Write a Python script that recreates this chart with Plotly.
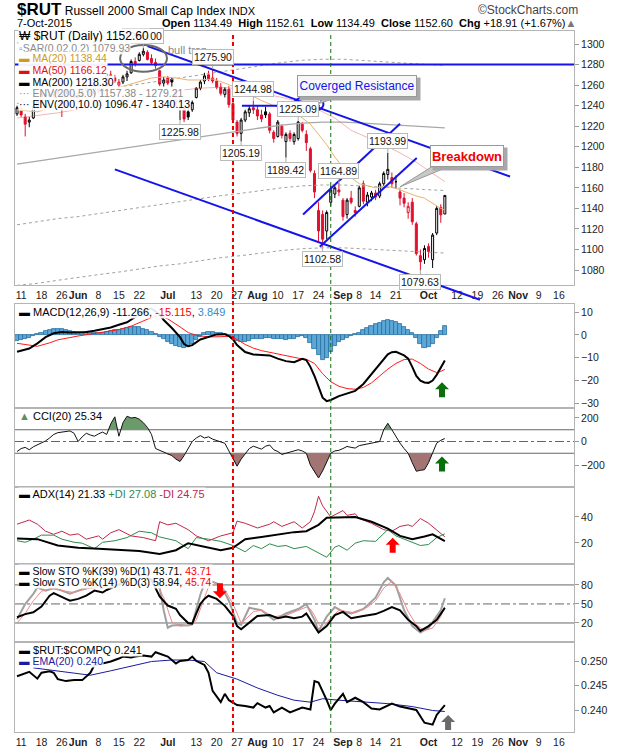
import plotly.graph_objects as go

# ---------------------------------------------------------------- data
dates = [
    "2015-05-08", "2015-05-11", "2015-05-12", "2015-05-13", "2015-05-14", "2015-05-15",
    "2015-05-18", "2015-05-19", "2015-05-20", "2015-05-21", "2015-05-22",
    "2015-05-26", "2015-05-27", "2015-05-28", "2015-05-29",
    "2015-06-01", "2015-06-02", "2015-06-03", "2015-06-04", "2015-06-05",
    "2015-06-08", "2015-06-09", "2015-06-10", "2015-06-11", "2015-06-12",
    "2015-06-15", "2015-06-16", "2015-06-17", "2015-06-18", "2015-06-19",
    "2015-06-22", "2015-06-23", "2015-06-24", "2015-06-25", "2015-06-26",
    "2015-06-29", "2015-06-30", "2015-07-01", "2015-07-02",
    "2015-07-06", "2015-07-07", "2015-07-08", "2015-07-09", "2015-07-10",
    "2015-07-13", "2015-07-14", "2015-07-15", "2015-07-16", "2015-07-17",
    "2015-07-20", "2015-07-21", "2015-07-22", "2015-07-23", "2015-07-24",
    "2015-07-27", "2015-07-28", "2015-07-29", "2015-07-30", "2015-07-31",
    "2015-08-03", "2015-08-04", "2015-08-05", "2015-08-06", "2015-08-07",
    "2015-08-10", "2015-08-11", "2015-08-12", "2015-08-13", "2015-08-14",
    "2015-08-17", "2015-08-18", "2015-08-19", "2015-08-20", "2015-08-21",
    "2015-08-24", "2015-08-25", "2015-08-26", "2015-08-27", "2015-08-28",
    "2015-08-31", "2015-09-01", "2015-09-02", "2015-09-03", "2015-09-04",
    "2015-09-08", "2015-09-09", "2015-09-10", "2015-09-11",
    "2015-09-14", "2015-09-15", "2015-09-16", "2015-09-17", "2015-09-18",
    "2015-09-21", "2015-09-22", "2015-09-23", "2015-09-24", "2015-09-25",
    "2015-09-28", "2015-09-29", "2015-09-30", "2015-10-01", "2015-10-02",
    "2015-10-05", "2015-10-06", "2015-10-07",
]
opens = [1232, 1237, 1229, 1224, 1228, 1239, 1244, 1252, 1249, 1251, 1254, 1251, 1239, 1253, 1252,
         1248, 1249, 1255, 1256, 1251, 1259, 1254, 1259, 1270, 1267, 1260, 1263, 1268, 1272, 1283,
         1284, 1290, 1292, 1286, 1282, 1274, 1262, 1267, 1266, 1254, 1243, 1238, 1234, 1236,
         1248, 1257, 1264, 1270, 1267, 1264, 1258, 1251, 1256, 1242, 1224, 1213, 1226, 1233, 1238,
         1236, 1231, 1234, 1232, 1214, 1210, 1220, 1205, 1213, 1205, 1208, 1222, 1212, 1198, 1174,
         1138, 1134, 1118, 1146, 1154, 1158, 1148, 1134, 1150, 1138, 1142, 1164, 1146, 1151,
         1155, 1152, 1164, 1173, 1170, 1166, 1156, 1150, 1136, 1146, 1125, 1094, 1090, 1103, 1090,
         1116, 1141, 1134.49]
highs = [1240, 1239, 1232, 1229, 1240, 1246, 1254, 1256, 1254, 1256, 1256, 1252, 1256, 1256, 1254,
         1252, 1256, 1262, 1260, 1262, 1262, 1260, 1272, 1274, 1270, 1266, 1270, 1274, 1285, 1287,
         1292, 1296.00, 1294, 1290, 1286, 1275, 1268, 1269, 1267, 1256, 1248, 1240, 1238, 1245,
         1258, 1265, 1272, 1274, 1275.90, 1267, 1262, 1258, 1259, 1244, 1226, 1228, 1236, 1240, 1244.98,
         1240, 1236, 1239, 1234, 1216, 1226, 1222, 1214, 1216, 1214, 1225.09, 1224, 1216, 1200, 1177,
         1146, 1138, 1138, 1162, 1162, 1164.89, 1150, 1150, 1157, 1142, 1162, 1167, 1156, 1157,
         1158, 1166, 1176, 1193.99, 1175, 1172, 1158, 1155, 1146, 1150, 1127, 1100, 1104, 1106, 1116,
         1142, 1144, 1152.61]
lows = [1230, 1229, 1210, 1219, 1227, 1237, 1242, 1246, 1244, 1247, 1249, 1229, 1238, 1248, 1244,
        1242, 1245, 1253, 1248, 1250, 1252, 1250, 1258, 1266, 1262, 1256, 1261, 1264, 1271, 1278,
        1283, 1288, 1284, 1280, 1276, 1259, 1258, 1260, 1258, 1238, 1225.98, 1224, 1226, 1234,
        1247, 1255, 1261, 1264, 1262, 1256, 1250, 1248, 1238, 1224, 1210, 1205.19, 1224, 1229, 1232,
        1226, 1224, 1228, 1213, 1204, 1209, 1208, 1189.42, 1205, 1202, 1206, 1214, 1196, 1175, 1150,
        1108, 1102.58, 1110, 1142, 1150, 1152, 1128, 1130, 1144, 1132, 1141, 1144, 1142, 1147,
        1148, 1150, 1162, 1168, 1160, 1159, 1143, 1141, 1130, 1124, 1094, 1079.63, 1086, 1092, 1082,
        1114, 1126, 1134.49]
closes = [1238, 1231, 1222, 1226, 1239, 1244, 1252, 1249, 1251, 1254, 1252, 1238, 1254, 1252, 1247,
          1250, 1254, 1258, 1251, 1260, 1254, 1258, 1270, 1269, 1264, 1263, 1268, 1271, 1283, 1281,
          1290, 1293, 1285, 1282, 1279, 1261, 1265, 1262, 1263, 1242, 1246, 1227, 1229, 1243,
          1257, 1263, 1269, 1266, 1264, 1258, 1252, 1256, 1241, 1226, 1213, 1226, 1234, 1237, 1236,
          1230, 1227, 1231, 1216, 1208, 1224, 1211, 1212, 1208, 1212, 1224, 1216, 1204, 1177, 1156,
          1118, 1110, 1136, 1158, 1160, 1156, 1132, 1148, 1146, 1136, 1160, 1147, 1153, 1155,
          1151, 1164, 1174, 1178, 1164, 1166, 1150, 1145, 1142, 1127, 1096, 1088, 1101, 1098, 1114,
          1140, 1133.69, 1152.60]

# moving averages / envelopes (read every 5 sessions)
env_idx = [0, 5, 10, 15, 20, 25, 30, 35, 40, 45, 50, 55, 60, 65, 70, 75, 80, 85, 90, 95, 100, 105]
ma200 = [1183, 1186, 1189, 1192, 1195, 1198, 1201, 1204, 1207, 1210, 1213, 1215.5, 1218.5, 1221,
         1223, 1224, 1224, 1223, 1222, 1220.5, 1219.3, 1218.3]
env5_upper = [1242, 1245, 1248, 1252, 1255, 1258, 1261, 1264, 1267, 1270.5, 1273.5, 1276.3, 1279.4,
              1282, 1284.2, 1285.2, 1285.2, 1284.2, 1283.1, 1281.5, 1280.3, 1279.2]
env5_lower = [1124, 1127, 1130, 1132, 1135, 1138, 1141, 1144, 1147, 1149.5, 1152.4, 1154.7, 1157.6,
              1160, 1161.9, 1162.8, 1162.8, 1161.9, 1160.9, 1159.5, 1158.3, 1157.4]
env10_upper = [1301, 1305, 1308, 1311, 1314.5, 1318, 1321, 1324, 1328, 1331, 1334, 1337, 1340, 1343,
               1345, 1346, 1346, 1345, 1344, 1342.5, 1341, 1340.1]
env10_lower = [1065, 1067, 1070, 1073, 1075.5, 1078, 1081, 1084, 1086, 1089, 1092, 1094, 1096.6, 1099,
               1100.7, 1101.6, 1101.6, 1100.7, 1099.8, 1098.5, 1097.4, 1096.5]
ma20_idx = [0, 5, 10, 15, 20, 25, 30, 33, 36, 39, 42, 45, 48, 51, 54, 57, 60, 63, 66, 69, 72, 74, 76,
            78, 80, 82, 84, 86, 88, 90, 92, 94, 96, 98, 100, 102, 104, 105]
ma20 = [1236, 1234, 1240, 1246, 1252, 1258, 1264, 1267, 1268, 1267, 1265, 1265, 1266, 1262, 1257,
        1251, 1245, 1240, 1236, 1231, 1222, 1212, 1202, 1190, 1180, 1170, 1164, 1162, 1160, 1161,
        1161, 1158, 1155, 1152, 1150, 1145, 1140, 1138.44]
ma50_idx = [0, 10, 20, 30, 35, 40, 45, 50, 55, 60, 65, 70, 74, 78, 82, 86, 90, 94, 98, 102, 105]
ma50 = [1228, 1233, 1240, 1248, 1252, 1255, 1257, 1258, 1256, 1252, 1248, 1243, 1236, 1228, 1216,
        1209, 1202, 1194, 1185, 1174, 1166.12]

# MACD(12,26,9)
macd_idx = [0, 3, 5, 7, 9, 11, 13, 15, 17, 19, 21, 23, 25, 27, 29, 31, 33, 35, 36, 38, 40, 41, 42, 43,
            45, 47, 49, 51, 52, 53, 54, 56, 58, 60, 62, 64, 66, 68, 70, 71, 72, 73, 74, 75, 76, 77,
            79, 81, 83, 85, 87, 89, 91, 92, 93, 95, 96, 97, 98, 99, 100, 101, 102, 103, 104, 105]
macd_vals = [-7.4, -6.0, -3.7, -1.0, 0.7, 1.2, 1.0, 1.0, 1.2, 1.8, 2.5, 3.2, 4.4, 5.5, 7.8, 10.5, 11.5,
             9.0, 6.5, 3.0, -1.0, -4.0, -5.0, -4.5, -2.0, -0.8, 0.2, 0.3, -0.5, -2.0, -4.5, -7.5,
             -8.6, -8.8, -9.0, -10.4, -11.5, -12.0, -10.5, -11.0, -14.0, -18.0, -23.0, -27.5, -29.0,
             -28.5, -26.8, -25.5, -24.5, -21.5, -17.0, -12.5, -8.5, -7.6, -7.4, -9.0, -10.4, -14.0,
             -18.0, -20.0, -20.8, -21.0, -20.0, -17.5, -14.5, -11.266]
signal_idx = [0, 5, 8, 10, 15, 20, 25, 28, 30, 33, 35, 37, 40, 42, 44, 47, 50, 52, 54, 56, 58, 60, 63,
              66, 69, 71, 73, 75, 77, 79, 81, 83, 85, 87, 89, 91, 93, 95, 97, 99, 101, 103, 104, 105]
signal_vals = [-3.7, -5.0, -3.5, -2.2, -0.5, 0.8, 2.3, 3.8, 5.2, 7.6, 8.4, 7.0, 3.5, 1.0, -0.2, -0.9,
               -0.8, -0.6, -2.0, -4.2, -5.8, -6.9, -8.0, -9.2, -10.2, -10.7, -12.5, -17.0, -20.5,
               -22.5, -23.5, -23.8, -23.0, -21.0, -18.0, -15.0, -12.5, -10.8, -10.6, -12.5, -15.0,
               -16.5, -16.0, -15.115]
hist_vals = [-2.5, -2.2, -1.8, -1.2, -0.6, 0.3, 0.9, 1.6, 2.2, 2.6,
             2.7, 2.5, 2.0, 1.6, 1.2, 1.0, 0.8, 1.1, 1.3, 1.0,
             0.6, 0.8, 1.3, 1.7, 2.0, 2.3, 2.6, 3.0, 3.4, 3.6,
             3.3, 2.7, 2.0, 1.2, 0.4, -0.8, -2.0, -3.0, -4.0, -4.8,
             -5.5, -5.9, -5.4, -4.0, -2.4, -0.8, 0.6, 1.3, 1.2, 0.9,
             0.8, 0.5, -0.3, -1.5, -2.6, -3.0, -3.0, -2.5, -2.0, -1.8,
             -1.6, -1.4, -1.5, -1.7, -1.9, -2.0, -2.1, -2.0, -1.6, -1.0,
             -0.6, -1.5, -3.5, -6.0, -9.0, -10.8, -10.0, -7.5, -5.0, -3.2,
             -2.2, -1.5, -0.6, 0.2, 1.0, 2.0, 3.0, 3.8, 4.6, 5.4,
             6.0, 6.4, 6.2, 5.5, 4.6, 3.4, 2.0, 0.6, -1.5, -4.0,
             -5.8, -5.5, -4.2, -1.2, 1.5, 3.849]

# CCI(20)
cci_vals = [-85, -60, -50, -70, -45, -28, -10, 5, 30, 60,
            75, 82, 85, 90, 70, 0, 40, 70, 55, 45,
            65, 80, 60, 150, 210, 45, 160, 215, 200, 205,
            190, 160, 120, 60, -60, -75, -90, -110, -120, -150,
            -170, -120, -60, 0, 30, 50, 30, 40, 20, 10,
            0, -15, -80, -150, -210, -150, -100, -60, -40, -55,
            -65, -40, -30, -70, -85, -110, -100, -85, -75, -70,
            -80, -100, -200, -260, -310, -250, -180, -100, -80, -75,
            -60, -42, -50, -56, -35, -28, -22, -20, -10, 0,
            100, 155, 100, 40, -14, -60, -100, -180, -253, -245,
            -240, -180, -100, -14, 10, 25.34]

# ADX(14)
adx_idx = [0, 5, 10, 15, 20, 25, 30, 35, 39, 42, 46, 50, 53, 56, 60, 64, 68, 71, 74, 76, 80, 83, 87,
           91, 94, 97, 100, 102, 105]
adx_vals = [23.4, 22.9, 18.0, 16.3, 15.6, 14.4, 13.7, 11.5, 14.4, 19.8, 17.3, 14.4, 16.3, 22.9, 24.6,
            26.6, 28.3, 29.0, 33.9, 39.3, 40.0, 40.0, 36.3, 31.0, 25.4, 22.9, 24.9, 26.6, 21.33]
pdi_idx = [0, 2, 4, 6, 9, 11, 14, 16, 19, 21, 24, 27, 30, 33, 35, 39, 42, 44, 47, 50, 53, 56, 58, 60,
           62, 64, 66, 68, 71, 74, 76, 78, 79, 81, 83, 85, 88, 91, 93, 96, 99, 101, 103, 105]
pdi_vals = [21.7, 20.5, 22.9, 26.0, 26.0, 22.9, 20.5, 19.8, 15.6, 20.5, 21.7, 24.1, 29.0, 27.8, 24.6,
            21.7, 15.6, 24.1, 22.9, 21.2, 18.0, 13.2, 18.0, 15.6, 19.3, 17.3, 18.0, 15.6, 17.3, 12.4,
            9.0, 16.8, 18.0, 14.4, 19.8, 21.7, 21.2, 30.2, 25.4, 21.7, 18.0, 18.8, 24.1, 27.08]
mdi_idx = [0, 3, 5, 7, 9, 11, 13, 15, 17, 20, 21, 23, 25, 28, 31, 34, 35, 37, 39, 42, 44, 47, 50, 53,
           54, 56, 59, 62, 63, 65, 68, 70, 72, 73, 74, 75, 77, 80, 81, 83, 84, 87, 90, 92, 94, 96, 97,
           99, 101, 103, 105]
mdi_vals = [34.4, 37.6, 34.4, 29.0, 26.6, 29.0, 26.0, 27.0, 22.9, 25.4, 22.9, 27.8, 30.2, 25.4, 24.1,
            21.7, 36.3, 33.9, 35.1, 30.2, 25.4, 21.7, 25.4, 27.8, 36.8, 35.1, 31.5, 34.4, 36.3, 32.7,
            36.3, 31.5, 36.3, 44.0, 55.9, 48.5, 40.0, 44.9, 41.2, 42.4, 38.8, 35.1, 30.2, 29.0, 32.7,
            33.9, 32.7, 38.8, 35.1, 30.2, 24.75]

# Slow stochastics
k39_idx = [0, 2, 4, 6, 8, 9, 12, 13, 15, 17, 19, 21, 22, 24, 26, 28, 30, 31, 33, 35, 37, 39, 40, 42,
           43, 44, 45, 46, 47, 49, 51, 53, 54, 55, 57, 59, 62, 64, 66, 68, 70, 71, 73, 74, 76, 78, 80,
           82, 85, 88, 90, 92, 94, 96, 98, 99, 101, 103, 105]
k39_vals = [29, 34, 37, 46, 63, 67, 58, 55, 58, 63, 71, 68, 72, 78, 84, 90, 95, 96, 88, 62, 47.5, 42.5,
            32.5, 20, 19, 35, 50, 58, 63, 58, 47, 31, 15, 10, 20, 31, 32.5, 27.5, 30, 27.5, 30, 35,
            15, 5, 15, 32.5, 37.5, 27.5, 31, 34, 39, 45, 40, 25, 15, 7.5, 15, 25, 43.71]
k14_idx = [0, 2, 4, 5, 7, 9, 11, 13, 15, 17, 19, 21, 23, 26, 29, 31, 33, 35, 36, 37, 38, 40, 42, 43,
           44, 45, 46, 48, 50, 52, 54, 55, 57, 60, 63, 66, 69, 71, 73, 74, 76, 78, 80, 82, 85, 88, 90,
           91, 93, 95, 97, 99, 101, 104, 105]
k14_vals = [26, 50, 66, 76, 71, 75, 71, 66, 71, 75, 77, 76, 82, 88, 95, 97, 85, 76, 40, 12.5, 16, 17,
            16, 18, 40, 65, 82, 85, 80, 55, 20, 17, 44, 40, 25, 35, 42, 50, 25, 7.5, 30, 45, 38, 35,
            42, 60, 84, 91, 79, 40, 15, 5, 12.5, 40, 58.94]
d3_idx = [0, 2, 4, 6, 8, 10, 12, 14, 16, 18, 20, 22, 24, 27, 30, 32, 34, 36, 37, 38, 40, 42, 43, 44,
          45, 46, 47, 49, 51, 53, 54, 55, 56, 58, 60, 63, 66, 69, 71, 72, 73, 74, 75, 77, 79, 81, 83,
          86, 88, 90, 92, 94, 96, 98, 100, 102, 104, 105]
d3_vals = [20, 35, 55, 70, 74, 73, 70, 68, 72, 75, 76, 78, 83, 88, 94, 95, 85, 60, 40, 22, 15, 16, 17,
           25, 42, 62, 77, 83, 72, 50, 35, 20, 25, 38, 40, 30, 32, 40, 45, 42, 32, 18, 12, 28, 40, 38,
           36, 45, 55, 75, 86, 66, 38, 17, 8, 12, 30, 45.74]

# $RUT:$COMPQ ratio and its EMA(20)
ratio_idx = [0, 2, 3, 5, 6, 8, 9, 10, 12, 14, 16, 18, 19, 21, 23, 25, 26, 28, 29, 31, 33, 34, 36, 37,
             39, 40, 42, 43, 44, 46, 47, 48, 50, 51, 52, 54, 56, 58, 59, 61, 62, 63, 65, 67, 70, 72,
             73, 74, 76, 77, 78, 80, 81, 83, 85, 87, 89, 92, 94, 96, 98, 100, 102, 103, 105]
ratio_vals = [0.2469, 0.2474, 0.2478, 0.2464, 0.2476, 0.2479, 0.2476, 0.2463, 0.2459, 0.2461, 0.2461,
              0.2476, 0.2492, 0.2495, 0.2499, 0.2505, 0.2509, 0.2507, 0.2509, 0.2511, 0.2509, 0.2518,
              0.2513, 0.2509, 0.2495, 0.2500, 0.2502, 0.2509, 0.2500, 0.2492, 0.2476, 0.2439, 0.2416,
              0.2433, 0.2420, 0.2410, 0.2408, 0.2405, 0.2414, 0.2405, 0.2408, 0.2395, 0.2405, 0.2395,
              0.2405, 0.2401, 0.2459, 0.2456, 0.2420, 0.2400, 0.2413, 0.2433, 0.2416, 0.2425, 0.2416,
              0.2403, 0.2401, 0.2413, 0.2407, 0.2403, 0.2400, 0.2374, 0.2370, 0.2390, 0.2410]
ema_idx = [4, 8, 13, 18, 23, 28, 33, 38, 42, 46, 49, 54, 59, 64, 68, 72, 75, 79, 85, 91, 97, 102, 105]
ema_vals = [0.2486, 0.2482, 0.2476, 0.2471, 0.2480, 0.2490, 0.2499, 0.2502, 0.2502, 0.2499, 0.2476,
            0.2463, 0.2445, 0.2430, 0.2420, 0.2416, 0.2423, 0.2420, 0.2416, 0.2413, 0.2407, 0.2399,
            0.2397]

# x-axis labels (session index -> label); future sessions continue the count
tick_idx = [1, 6, 11, 15, 20, 25, 30, 37, 44, 49, 54, 59, 64, 69, 74, 80, 84, 88, 93, 101,
            108, 113, 118, 123, 128, 133]
tick_text = ["11", "18", "26", "<b>Jun</b>", "8", "15", "22", "<b>Jul</b>", "13", "20", "27",
             "<b>Aug</b>", "10", "17", "24", "<b>Sep</b>", "8", "14", "21", "<b>Oct</b>",
             "12", "19", "26", "<b>Nov</b>", "9", "16"]

# high / low price flags
flag_idx = [31, 48, 40, 55, 58, 66, 69, 75, 79, 91, 99]
flag_val = [1296.00, 1275.90, 1225.98, 1205.19, 1244.98, 1189.42, 1225.09, 1102.58, 1164.89, 1193.99, 1079.63]
flag_side = ["high", "high", "low", "low", "high", "low", "high", "low", "high", "high", "low"]

# hand-drawn annotation lines on the price panel: (idx0, price0, idx1, price1)
trend_lines = [
    (32, 1298, 121, 1171),        # converged resistance (falling)
    (24, 1178, 113.6, 1051),      # lower channel (runs past the panel bottom)
    (70.2, 1134, 94, 1222.3),     # rising channel top
    (74.3, 1102.6, 98.1, 1189),   # rising channel bottom
    (55.2, 1240, 74.3, 1240),     # short horizontal resistance
]
level_1280 = 1280
red_marker_idx = 53
green_marker_idx = 77

# ---------------------------------------------------------------- style / layout
FONT = "Liberation Sans Narrow, Arial Narrow, Liberation Sans, Arial, sans-serif"
W, H = 620, 750
X_LEFT, X_RIGHT = 15, 574
X_RANGE = [-0.5, 136.7]
BORDER = "#b4b4b4"
BLUE = "rgb(20,20,235)"
RED = "#e0102f"
PANELS = [("main", 31, 285), ("macd", 304, 408), ("cci", 408, 487),
          ("adx", 487, 564), ("sto", 564, 642), ("ratio", 642, 732)]
Y_RANGES = {"main": [1065.4, 1312.7], "macd": [-32, 13.5], "cci": [-387, 285],
            "adx": [3.8, 63], "sto": [-10, 113], "ratio": [0.23551, 0.25388]}
Y_TICKS = {"main": list(range(1080, 1301, 20)), "macd": [-30, -20, -10, 0, 10],
           "cci": [-200, 0, 200], "adx": [20, 40], "sto": [20, 50, 80],
           "ratio": [0.240, 0.245, 0.250]}
AX = {"main": ("x", "y"), "macd": ("x2", "y2"), "cci": ("x3", "y3"),
      "adx": ("x4", "y4"), "sto": ("x5", "y5"), "ratio": ("x6", "y6")}

n = len(dates)
xs = list(range(n))
fig = go.Figure()


def line(panel, x, y, color, width=1, dash="solid"):
    xa, ya = AX[panel]
    fig.add_trace(go.Scatter(x=x, y=y, mode="lines", xaxis=xa, yaxis=ya,
                             line=dict(color=color, width=width, dash=dash),
                             hoverinfo="skip", showlegend=False))


# ---- price panel
line("main", env_idx, env10_lower, "#a0a0a0", 1, "dot")
line("main", env_idx, env10_upper, "#a0a0a0", 1, "dot")
line("main", env_idx, env5_lower, "#a0a0a0", 1, "dot")
line("main", env_idx, env5_upper, "#a0a0a0", 1, "dot")
line("main", env_idx, ma200, "#a8a8a8", 1.3)
line("main", ma50_idx, ma50, "rgba(232,90,90,0.45)", 1)
line("main", ma20_idx, ma20, "#e9b36a", 1)

up_ids = [i for i in xs if i == 0 or closes[i] >= closes[i - 1]]
dn_ids = [i for i in xs if i > 0 and closes[i] < closes[i - 1]]
for ids, col in ((up_ids, "#000000"), (dn_ids, RED)):
    fig.add_trace(go.Candlestick(
        x=[xs[i] for i in ids], open=[opens[i] for i in ids], high=[highs[i] for i in ids],
        low=[lows[i] for i in ids], close=[closes[i] for i in ids],
        text=[dates[i] for i in ids], xaxis="x", yaxis="y", whiskerwidth=0,
        increasing=dict(line=dict(color=col, width=1), fillcolor="white"),
        decreasing=dict(line=dict(color=col, width=1), fillcolor=col),
        showlegend=False, hoverinfo="text"))

# ---- MACD panel
fig.add_trace(go.Bar(x=xs, y=hist_vals, xaxis="x2", yaxis="y2", width=1,
                     marker=dict(color="#5aa7d8", line=dict(color="#2a6f9f", width=0.8)),
                     hoverinfo="skip", showlegend=False))
line("macd", signal_idx, signal_vals, "#ff1a1a", 1)
line("macd", macd_idx, macd_vals, "#000000", 2)


# ---- CCI panel (shaded beyond +/-100)
def beyond(xv, yv, level, above):
    polys, cur = [], None
    for i in range(len(xv)):
        v = yv[i]
        inside = v > level if above else v < level
        if i > 0:
            pv = yv[i - 1]
            pin = pv > level if above else pv < level
            if inside != pin:
                t = (level - pv) / (v - pv)
                xc = xv[i - 1] + t * (xv[i] - xv[i - 1])
                if inside:
                    cur = [(xc, level)]
                else:
                    cur.append((xc, level))
                    polys.append(cur)
                    cur = None
        if inside:
            if cur is None:
                cur = [(xv[i], level)]
            cur.append((xv[i], v))
    if cur:
        cur.append((xv[-1], level))
        polys.append(cur)
    return polys


for above, col in ((True, "#6b9a6b"), (False, "#a37474")):
    for poly in beyond(xs, cci_vals, 100 if above else -100, above):
        fig.add_trace(go.Scatter(x=[p[0] for p in poly], y=[p[1] for p in poly], xaxis="x3",
                                 yaxis="y3", mode="lines", fill="toself", fillcolor=col,
                                 line=dict(width=0), hoverinfo="skip", showlegend=False))
line("cci", xs, cci_vals, "#111111", 1)

# ---- ADX panel
line("adx", mdi_idx, mdi_vals, "#c0284a", 1)
line("adx", pdi_idx, pdi_vals, "#2e8b4a", 1)
line("adx", adx_idx, adx_vals, "#000000", 2)

# ---- STO panel
line("sto", k14_idx, k14_vals, "#a0a0a0", 2)
line("sto", d3_idx, d3_vals, "#f08a8a", 1)
line("sto", k39_idx, k39_vals, "#000000", 2)

# ---- ratio panel
line("ratio", ema_idx, ema_vals, "#1a1aa0", 1)
line("ratio", ratio_idx, ratio_vals, "#000000", 2)

# ---------------------------------------------------------------- axes
layout = dict(width=W, height=H, margin=dict(l=0, r=0, t=0, b=0), paper_bgcolor="white",
              plot_bgcolor="white", showlegend=False, bargap=0,
              font=dict(family=FONT, size=10, color="#222"))
for name, top, bot in PANELS:
    xa, ya = AX[name]
    xk = "xaxis" + xa[1:]
    yk = "yaxis" + ya[1:]
    xd = dict(domain=[X_LEFT / W, X_RIGHT / W], range=X_RANGE, anchor=ya, showline=True,
              mirror=True, linecolor=BORDER, linewidth=1, showgrid=False, zeroline=False,
              ticks="", showticklabels=False, fixedrange=True)
    if xa != "x":
        xd["matches"] = "x"
    if name in ("main", "ratio"):
        xd.update(showticklabels=True, tickmode="array", tickvals=tick_idx, ticktext=tick_text,
                  tickangle=0, tickfont=dict(size=10.5, color="#222"), ticklen=0)
    if name == "main":
        xd["rangeslider"] = dict(visible=False)
    layout[xk] = xd
    yd = dict(domain=[1 - bot / H, 1 - top / H], range=Y_RANGES[name], anchor=xa, side="right",
              showline=True, mirror=True, linecolor=BORDER, linewidth=1, showgrid=False,
              zeroline=False, ticks="outside", ticklen=4, tickcolor="#999", tickmode="array",
              tickvals=Y_TICKS[name], tickfont=dict(size=10.5, color="#222"), fixedrange=True)
    if name == "ratio":
        yd["tickformat"] = ".3f"
    layout[yk] = yd
fig.update_layout(**layout)

# ---------------------------------------------------------------- shapes
shapes = []
# reference levels in CCI and STO
for ya, lv, dash in (("y3", 100, "solid"), ("y3", -100, "solid"), ("y3", 0, "dashdot"),
                     ("y5", 80, "solid"), ("y5", 20, "solid"), ("y5", 50, "dashdot")):
    xr = "x" + ya[1:] + " domain"
    shapes.append(dict(type="line", xref=xr, yref=ya, x0=0, x1=1, y0=lv, y1=lv,
                       line=dict(color="#666", width=1, dash=dash), layer="below"))
# blue 1280 line
shapes.append(dict(type="line", xref="x domain", yref="y", x0=0, x1=1, y0=level_1280,
                   y1=level_1280, line=dict(color=BLUE, width=2)))
for (a0, p0, a1, p1) in trend_lines:
    shapes.append(dict(type="line", xref="x", yref="y", x0=a0, y0=p0, x1=a1, y1=p1,
                       line=dict(color=BLUE, width=2)))
# the lower channel line continues below the panel edge (drawn in paper units, unclipped)
a0, p0, a1, p1 = trend_lines[1]
ylo, yhi = Y_RANGES["main"]
d0, d1 = 1 - PANELS[0][2] / H, 1 - PANELS[0][1] / H
a_edge = a0 + (p0 - ylo) / (p0 - p1) * (a1 - a0)
shapes.append(dict(type="line", xref="x", yref="paper", x0=a_edge, y0=d0, x1=a1,
                   y1=d0 + (p1 - ylo) / (yhi - ylo) * (d1 - d0), line=dict(color=BLUE, width=2)))
# ellipses
shapes.append(dict(type="circle", xref="x", yref="y", x0=25.3, x1=36.8, y0=1273, y1=1299,
                   line=dict(color="#6a6a6a", width=2)))
shapes.append(dict(type="circle", xref="x", yref="y", x0=68, x1=75.2, y0=1234, y1=1249,
                   line=dict(color=BLUE, width=2)))
# callout wedges
shapes.append(dict(type="path", xref="x", yref="y",
                   path="M 101.8,1180.5 L 105.8,1180.5 L 94,1161 Z",
                   fillcolor="#c8c8c8", line=dict(color="#999", width=1)))
shapes.append(dict(type="path", xref="x", yref="y",
                   path="M 75.5,1248.5 L 79,1248.5 L 74,1242 Z",
                   fillcolor="#c8c8c8", line=dict(color="#999", width=1)))
# vertical marker lines through all panels
shapes.append(dict(type="line", xref="x", yref="paper", x0=red_marker_idx, x1=red_marker_idx,
                   y0=1 - 732 / H, y1=1 - 34 / H, line=dict(color="#ee0000", width=2, dash="4px,3px")))
shapes.append(dict(type="line", xref="x", yref="paper", x0=green_marker_idx, x1=green_marker_idx,
                   y0=1 - 732 / H, y1=1 - 32 / H, line=dict(color="#107010", width=1, dash="4px,3px")))

# block arrows (tip at anchor); pixel-sized
UP = "M0,0 L7,-7 L3,-7 L3,-15 L-3,-15 L-3,-7 L-7,-7 Z"
DOWN = "M0,0 L7,7 L3,7 L3,15 L-3,15 L-3,7 L-7,7 Z"
arrows = [("x2", "y2", 104.3, -20.7, UP, "#0a6e0a"),
          ("x3", "y3", 104.3, -127, UP, "#0a6e0a"),
          ("x4", "y4", 92.2, 24, UP, "#ff0000"),
          ("x5", "y5", 49.8, 59, DOWN, "#ff0000"),
          ("x6", "y6", 105.8, 0.2390, UP, "#6a6a6a")]
for xa, ya, ax_, ay_, path, col in arrows:
    shapes.append(dict(type="path", xref=xa, yref=ya, xsizemode="pixel", ysizemode="pixel",
                       xanchor=ax_, yanchor=ay_, path=path, fillcolor=col, line=dict(width=0)))
fig.update_layout(shapes=shapes)

# ---------------------------------------------------------------- annotations
ann = []
# bull trap note (mostly hidden under a flag)
ann.append(dict(xref="x", yref="y", x=36.5, y=1294, text="bull trap", showarrow=False,
                xanchor="left", font=dict(size=11, color="#888", family=FONT)))
# price flags
for i, v, s in zip(flag_idx, flag_val, flag_side):
    ann.append(dict(xref="x", yref="y", x=i, y=v, text=f"{v:.2f}", showarrow=True, arrowhead=0,
                    arrowwidth=1, arrowcolor="#aaa", ax=0, ay=-12 if s == "high" else 12,
                    bgcolor="white", bordercolor="#bbb", borderwidth=1, borderpad=1,
                    font=dict(size=10.5, color="#111", family=FONT)))
# callouts with drop shadows
for (cx, cy, txt, w, h, fcol, bold, bg) in ((83.4, 1259.1, "Coverged Resistance", 118, 20, "#1515e6", False, "#f7f7f7"),
                                           (110.4, 1191, "Breakdown", 72, 20, "#ee0000", True, "white")):
    ann.append(dict(xref="x", yref="y", x=cx, y=cy, text=" ", showarrow=False, width=w, height=h,
                    bgcolor="#a8a8a8", xshift=3, yshift=-3, borderpad=1))
    ann.append(dict(xref="x", yref="y", x=cx, y=cy, text=f"<b>{txt}</b>" if bold else txt,
                    showarrow=False, width=w, height=h, bgcolor=bg, bordercolor="#9a9a9a",
                    borderwidth=1, borderpad=0,
                    font=dict(size=13 if bold else 12, color=fcol, family=FONT)))


def legend(ypx, text, size=10.5):
    return dict(xref="paper", yref="paper", x=18 / W, y=1 - ypx / H, xanchor="left",
                yanchor="middle", text=text, showarrow=False, bgcolor="rgba(255,255,255,0.9)",
                borderpad=0, font=dict(size=size, family=FONT, color="#000"))


def c(col, t):
    return f"<span style='color:{col}'>{t}</span>"


ann += [
    legend(36, "₩ $RUT (Daily) 1152.60", 12),
    legend(47.5, c("#8a8a8a", "▫SAR(0.02,0.2) 1079.93")),
    legend(58.5, c("#d09a20", "▬ MA(20) 1138.44")),
    legend(70, c("#e01010", "▬ MA(50) 1166.12")),
    legend(81.5, "▬ MA(200) 1218.30"),
    legend(93, c("#8a8a8a", "··· ENV(200,5.0) 1157.38 - 1279.21")),
    legend(104, "··· ENV(200,10.0) 1096.47 - 1340.13"),
    legend(312, "▬ MACD(12,26,9) -11.266, " + c("#ff0000", "-15.115") + ", " + c("#3a8cc8", "3.849"), 11),
    legend(416, c("#5e8f5e", "▲") + " CCI(20) 25.34", 11),
    legend(494, "▬ ADX(14) 21.33 " + c("#2e8b4a", "+DI 27.08") + " " + c("#c0284a", "-DI 24.75"), 11),
    legend(571, "▬ Slow STO %K(39) %D(1) 43.71, " + c("#ff0000", "43.71")),
    legend(582, "▬ Slow STO %K(14) %D(3) 58.94, " + c("#ff0000", "45.74")),
    legend(650, "▬ $RUT:$COMPQ 0.241", 11),
    legend(661, c("#1a1aa0", "▬ EMA(20) 0.240")),
]
# header
ann.append(dict(xref="paper", yref="paper", x=15 / W, y=1 - 10 / H, xanchor="left", yanchor="middle",
                showarrow=False, font=dict(family=FONT, size=12, color="#000"),
                text="<span style='font-size:17px'><b>$RUT</b></span> Russell 2000 Small Cap Index "
                     "<span style='font-size:11px'>INDX</span>"))
ann.append(dict(xref="paper", yref="paper", x=580 / W, y=1 - 10 / H, xanchor="right", yanchor="middle",
                showarrow=False, text="©StockCharts.com", font=dict(family=FONT, size=12, color="#444")))
ann.append(dict(xref="paper", yref="paper", x=15 / W, y=1 - 23 / H, xanchor="left", yanchor="middle",
                showarrow=False, text="7-Oct-2015", font=dict(family=FONT, size=11, color="#000")))
ann.append(dict(xref="paper", yref="paper", x=578 / W, y=1 - 23 / H, xanchor="right", yanchor="middle",
                showarrow=False, font=dict(family=FONT, size=11, color="#000"),
                text="<b>Open</b> 1134.49  <b>High</b> 1152.61  <b>Low</b> 1134.49  "
                     "<b>Close</b> 1152.60  <b>Chg</b> +18.91 (+1.67%)" + c("#777", "▲")))
fig.update_layout(annotations=ann)

fig.write_html("out.html", config={"displayModeBar": False},
               post_script="document.body.style.margin='0';")
